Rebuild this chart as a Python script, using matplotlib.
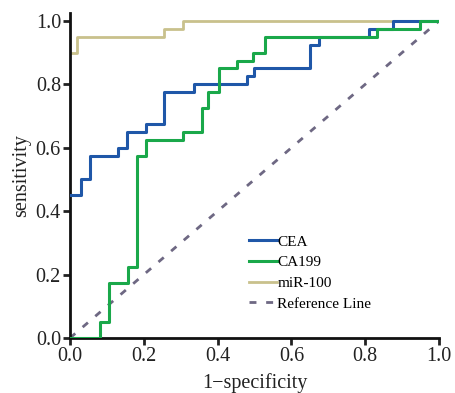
import matplotlib
matplotlib.use("Agg")
import matplotlib.pyplot as plt

# Data
cea_fpr = [0, 0.03, 0.055, 0.13, 0.155, 0.205, 0.255, 0.335, 0.48, 0.5, 0.65, 0.675, 0.81, 0.875, 1.0]
cea_tpr = [0.45, 0.5, 0.575, 0.6, 0.65, 0.675, 0.775, 0.8, 0.825, 0.85, 0.925, 0.95, 0.975, 1.0, 1.0]

ca199_fpr = [0, 0.08, 0.105, 0.158, 0.182, 0.206, 0.307, 0.357, 0.375, 0.405, 0.452, 0.497, 0.528, 0.831, 0.949, 1.0]
ca199_tpr = [0, 0.05, 0.175, 0.225, 0.575, 0.625, 0.65, 0.725, 0.775, 0.85, 0.875, 0.9, 0.95, 0.975, 1.0, 1.0]

mir_fpr = [0, 0.02, 0.255, 0.305, 1.0]
mir_tpr = [0.9, 0.95, 0.975, 1.0, 1.0]

ref_x = [0, 1]
ref_y = [0, 1]

series_labels = ["CEA", "CA199", "miR-100", "Reference Line"]
x_ticks = [0.0, 0.2, 0.4, 0.6, 0.8, 1.0]
y_ticks = [0.0, 0.2, 0.4, 0.6, 0.8, 1.0]

plt.rcParams['font.family'] = ['Liberation Serif', 'DejaVu Serif']

fig = plt.figure(figsize=(4.56, 3.93), dpi=100)
ax = fig.add_axes([70/456, 1-338/393, 369/456, 325/393])

ax.step(cea_fpr, cea_tpr, where='post', color='#1f57a8', lw=2.2, label=series_labels[0], zorder=3)
ax.step(ca199_fpr, ca199_tpr, where='post', color='#1aa84a', lw=2.2, label=series_labels[1], zorder=3)
ax.step(mir_fpr, mir_tpr, where='post', color='#c9c18c', lw=2.0, label=series_labels[2], zorder=2)
ax.plot(ref_x, ref_y, color='#6e6883', lw=2.0, dashes=(2.5, 3.5), label=series_labels[3], zorder=1)

ax.set_xlim(0, 1.0)
ax.set_ylim(0, 1.025)
ax.set_xticks(x_ticks)
ax.set_yticks(y_ticks)
ax.set_xticklabels([f"{v:.1f}" for v in x_ticks])
ax.set_yticklabels([f"{v:.1f}" for v in y_ticks])
ax.tick_params(direction='out', length=5, width=2, labelsize=14.5, colors='#222222', pad=1.5)
ax.spines['top'].set_visible(False)
ax.spines['right'].set_visible(False)
ax.spines['left'].set_linewidth(2)
ax.spines['bottom'].set_linewidth(2)
ax.spines['left'].set_color('#111111')
ax.spines['bottom'].set_color('#111111')

ax.set_xlabel("1\u2212specificity", fontsize=14.5, color='#222222', labelpad=5)
ax.set_ylabel("sensitivity", fontsize=14.5, color='#222222', labelpad=3)

leg = ax.legend(loc='upper left', bbox_to_anchor=((243-70)/369, (338-229)/325),
                frameon=False, fontsize=11, handlelength=1.8, handletextpad=0.05,
                labelspacing=0.45, borderaxespad=0)

fig.savefig("out.png", dpi=100)
